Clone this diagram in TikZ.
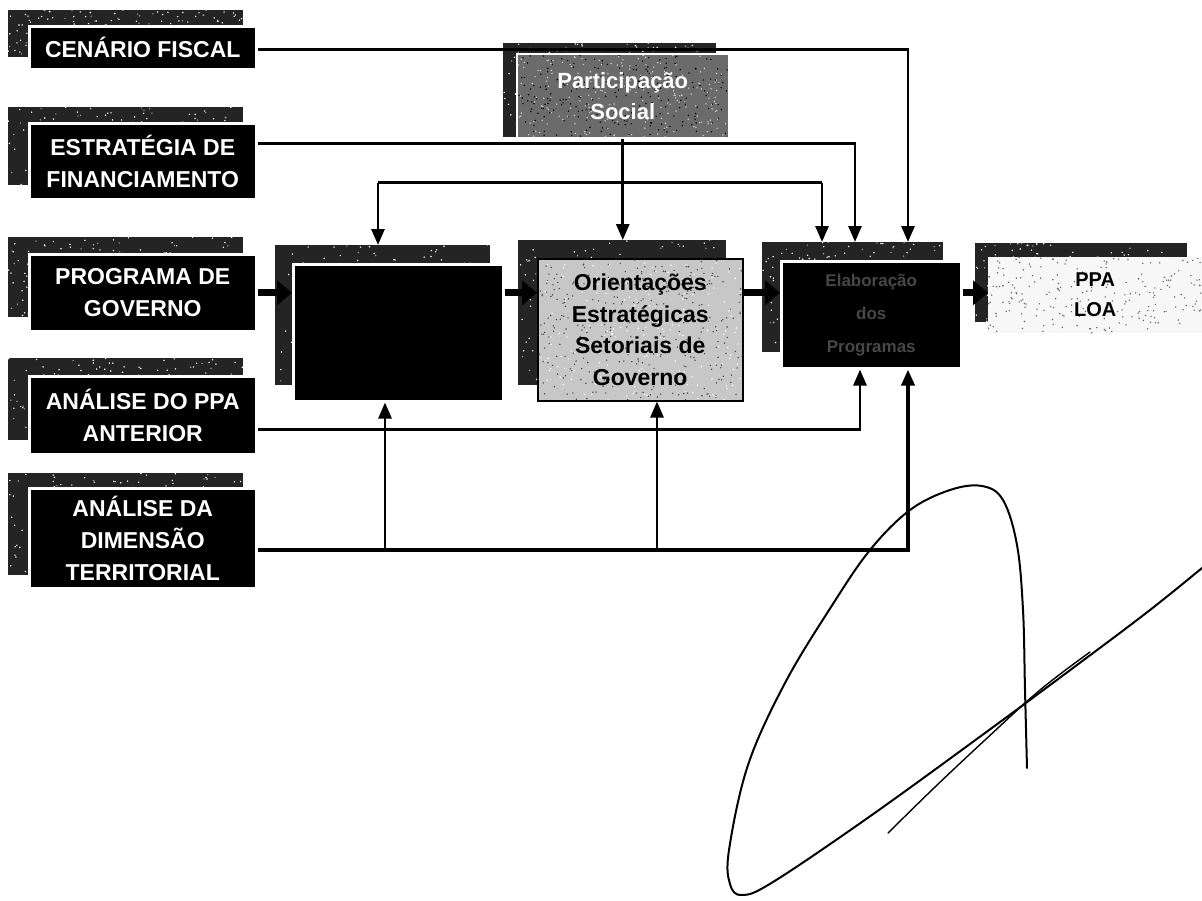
\documentclass[tikz,border=0pt]{standalone}
\usepackage{fontspec}
\setmainfont{Liberation Sans}
\usetikzlibrary{arrows.meta,calc}
\begin{document}
\begin{tikzpicture}[x=1pt,y=-1pt,
  speck/.style n args={4}{path picture={
    \foreach \k in {1,...,#1}{
      \fill[#2] let \p1=(path picture bounding box.south west), \p2=(path picture bounding box.north east) in
        ({\x1+rnd*(\x2-\x1)},{\y1+rnd*(\y2-\y1)}) circle (0.8pt);}
    \foreach \k in {1,...,#3}{
      \fill[#4] let \p1=(path picture bounding box.south west), \p2=(path picture bounding box.north east) in
        ({\x1+rnd*(\x2-\x1)},{\y1+rnd*(\y2-\y1)}) circle (0.8pt);}
  }},
  shadowbox/.style={fill=black!86, draw=none, anchor=north west, inner sep=0pt, speck={150}{white}{40}{black!40}},
  darkbox/.style={fill=black, draw=white, line width=2.5pt, anchor=north west, inner sep=0pt,
    text=white, align=center, font=\bfseries\fontsize{23}{32}\selectfont},
  greybox/.style={fill=black!22, draw=black, line width=1.5pt, anchor=north west, inner sep=0pt,
    text=black, align=center, font=\bfseries\fontsize{23}{31.5}\selectfont, speck={350}{black!70}{200}{white}},
  lightbox/.style={fill=black!3, draw=none, anchor=north west, inner sep=0pt,
    text=black, align=center, font=\bfseries\fontsize{20}{30}\selectfont, speck={220}{black!60}{0}{white}},
  socialbox/.style={fill=black!58, draw=white, line width=1.5pt, anchor=north west, inner sep=0pt,
    text=white, align=center, font=\bfseries\fontsize{22}{31}\selectfont, speck={250}{black}{220}{white!80!black}},
  conn/.style={line width=2.8pt, -{Triangle[length=16pt,width=13pt]}},
  bigarrow/.style={line width=7pt, -{Triangle[length=15pt,width=24pt]}},
  sig/.style={line width=1.6pt, line cap=round, line join=round}
]
\pgfmathsetseed{7}
\useasboundingbox (0,0) rectangle (1202,900);
\fill[white] (0,0) rectangle (1202,900);

% left column
\node[shadowbox, minimum width=235pt, minimum height=47pt] (cfs) at (8,10) {};
\node[darkbox, minimum width=227pt, minimum height=43pt] (cf) at (28,25) {CENÁRIO FISCAL};
\node[shadowbox, minimum width=235pt, minimum height=78pt] (efs) at (8,107) {};
\node[darkbox, minimum width=227pt, minimum height=76pt] (ef) at (28,122) {ESTRATÉGIA DE\\FINANCIAMENTO};
\node[shadowbox, minimum width=235pt, minimum height=80pt] (pgs) at (8,237) {};
\node[darkbox, minimum width=227pt, minimum height=77pt] (pg) at (28,253) {PROGRAMA DE\\GOVERNO};
\node[shadowbox, minimum width=235pt, minimum height=82pt] (pas) at (8,358) {};
\node[darkbox, minimum width=227pt, minimum height=78pt] (pa) at (28,375) {ANÁLISE DO PPA\\ANTERIOR};
\node[shadowbox, minimum width=235pt, minimum height=102pt] (dts) at (8,473) {};
\node[darkbox, minimum width=227pt, minimum height=100pt] (dt) at (28,487) {ANÁLISE DA\\DIMENSÃO\\TERRITORIAL};

% participação social
\node[shadowbox, minimum width=213pt, minimum height=94pt] (pss) at (503,43) {};
\node[socialbox, minimum width=212pt, minimum height=84pt] (ps) at (516,53) {Participação\\Social};

% middle chain
\node[shadowbox, minimum width=215pt, minimum height=140pt] (b1s) at (275,245) {};
\node[darkbox, minimum width=210pt, minimum height=137pt] (b1) at (292,263) {};
\node[shadowbox, minimum width=208pt, minimum height=145pt] (b2s) at (518,240) {};
\node[greybox, minimum width=205pt, minimum height=142pt] (b2) at (537,258) {Orientações\\Estratégicas\\Setoriais de\\Governo};
\node[shadowbox, minimum width=181pt, minimum height=110pt] (b3s) at (762,242) {};
\node[darkbox, minimum width=180pt, minimum height=107pt, text=black!72,
      font=\bfseries\fontsize{17}{33}\selectfont] (b3) at (780,260) {Elaboração\\dos\\Programas};
\node[shadowbox, minimum width=212pt, minimum height=79pt] (b4s) at (975,243) {};
\node[lightbox, minimum width=214pt, minimum height=76pt] (b4) at (988,257) {PPA\\LOA};

% named points on the connectors
\coordinate (cfo) at ([yshift=-2pt]cf.east);
\coordinate (efo) at ([yshift=18pt]ef.east);
\coordinate (pao) at ([yshift=-14pt]pa.east);
\coordinate (dto) at ([yshift=-12pt]dt.east);
\coordinate (hub) at ($(ps.south)+(0,44)$);
\coordinate (b1top) at ($(b1s.north west)+(103,0)$);
\coordinate (b3topa) at ($(b3s.north west)+(60,0)$);
\coordinate (b3topb) at ($(b3s.north west)+(93,0)$);
\coordinate (b3topc) at ($(b3s.north west)+(146,0)$);
\coordinate (b1in) at ($(b1.south west)+(93,0)$);
\coordinate (b2in) at ($(b2.south west)+(120,0)$);
\coordinate (b3ina) at ($(b3.south west)+(80,0)$);
\coordinate (b3inb) at ($(b3.south west)+(128,0)$);

% connectors from the top
\draw[conn] (cfo) -| (b3topc);
\draw[conn] (efo) -| (b3topb);
\draw[conn] (ps.south) -- (ps.south |- b2s.north);
\draw[line width=2.8pt] (b1top |- hub) -- (b3topa |- hub);
\draw[conn] (b1top |- hub) -- (b1top);
\draw[conn] (b3topa |- hub) -- (b3topa);

% horizontal chain
\draw[bigarrow] (pg.east) -- (b1.west |- pg.east);
\draw[bigarrow] (b1.east |- pg.east) -- (b2.west |- pg.east);
\draw[bigarrow] (b2.east |- pg.east) -- (b3.west |- pg.east);
\draw[bigarrow] (b3.east |- pg.east) -- (b4.west |- pg.east);

% connectors from below
\draw[conn] (pao) -| (b3ina);
\draw[conn, line width=3.8pt] (dto) -| (b3inb);
\draw[conn] (b1in |- dto) -- (b1in);
\draw[conn] (b2in |- dto) -- (b2in);

% signature
\draw[sig, line width=2pt] plot[smooth, tension=0.6] coordinates {
  (1027,768) (1025,690) (1023,610) (1017,545) (1003,500) (982,486) (950,490) (910,510)
  (870,550) (831,607) (785,683) (748,765) (729,850) (730,884) (742,895) (773,882)
  (869,817) (985,733) (1081,662) (1150,610) (1202,568)};
\draw[sig, line width=1.4pt] plot[smooth, tension=0.6] coordinates {
  (1090,652) (1040,690) (985,740) (935,787) (888,833)};
\end{tikzpicture}
\end{document}
